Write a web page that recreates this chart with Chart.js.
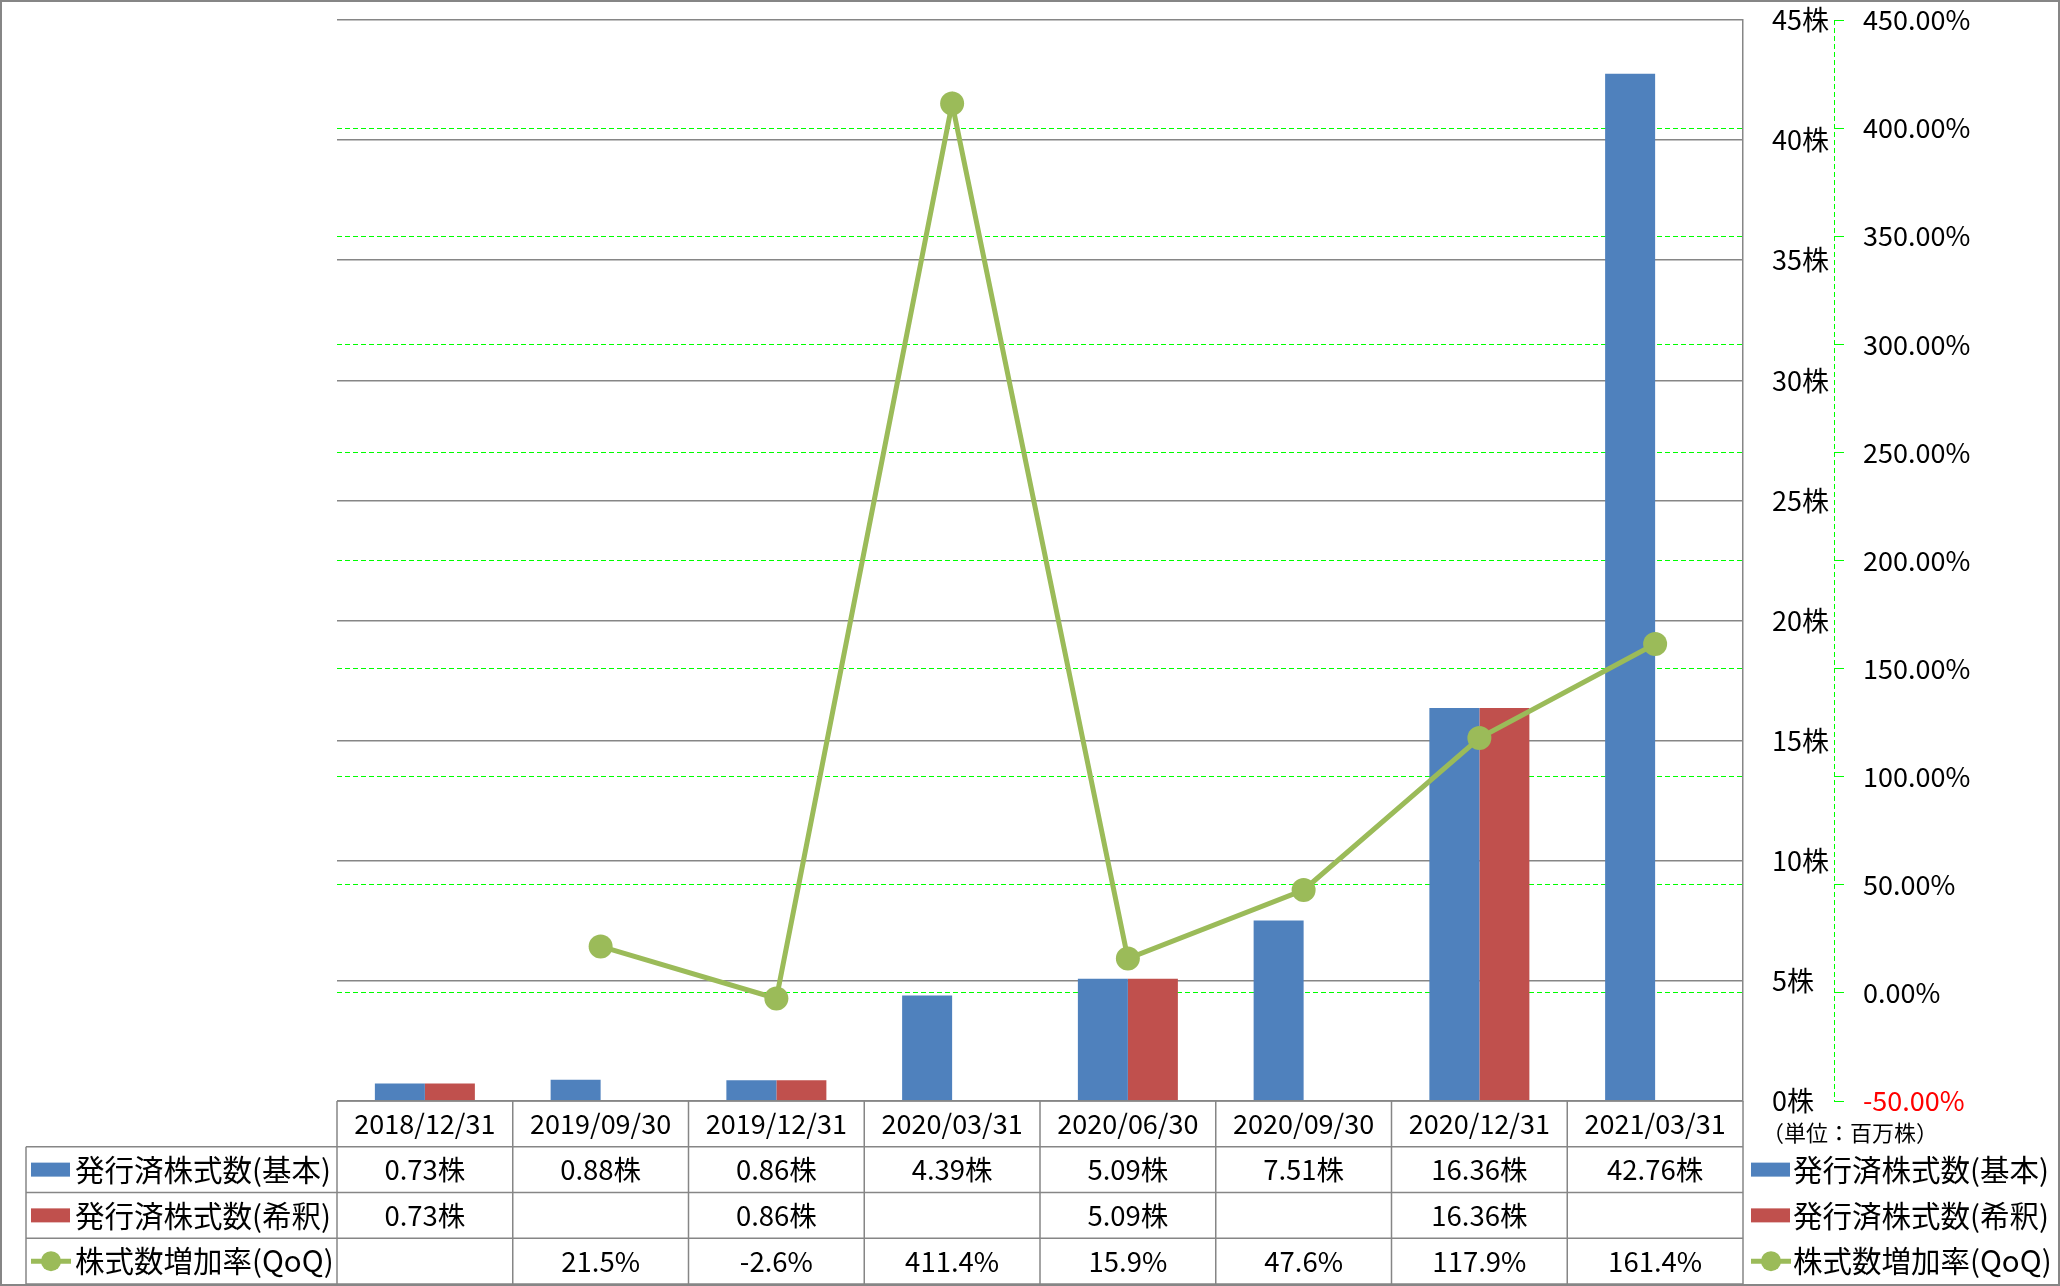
<!DOCTYPE html>
<html>
<head>
<meta charset="utf-8">
<script src="https://cdn.jsdelivr.net/npm/chart.js@4.4.1/dist/chart.umd.min.js"></script>
<style>
  html, body { margin: 0; padding: 0; background: #fff; }
  #wrap { width: 2060px; height: 1286px; position: relative; }
</style>
</head>
<body>
<div id="wrap"><canvas id="shares-chart"></canvas></div>
<script>
// data
var categories = ['2018/12/31', '2019/09/30', '2019/12/31', '2020/03/31', '2020/06/30', '2020/09/30', '2020/12/31', '2021/03/31'];
var seriesNames = ['発行済株式数(基本)', '発行済株式数(希釈)', '株式数増加率(QoQ)'];
var basicShares = [0.73, 0.88, 0.86, 4.39, 5.09, 7.51, 16.36, 42.76];
var dilutedShares = [0.73, null, 0.86, null, 5.09, null, 16.36, null];
var growthQoQ = [null, 21.5, -2.6, 411.4, 15.9, 47.6, 117.9, 161.4];
var unitLabel = '（単位：百万株）';

var BLUE = '#4F81BD', RED = '#C0504D', GREEN = '#9BBB59', GRID = '#868686', LIME = '#00FF00';
var FONT = '"Noto Sans CJK JP", "Noto Sans", sans-serif';

function patch(ctx, kind, x, cy) {
    if (kind === 2) {
        ctx.strokeStyle = GREEN; ctx.lineWidth = 5;
        ctx.beginPath(); ctx.moveTo(x, cy); ctx.lineTo(x + 40, cy); ctx.stroke();
        ctx.fillStyle = GREEN;
        ctx.beginPath(); ctx.arc(x + 20, cy, 10, 0, Math.PI * 2); ctx.fill();
    } else {
        ctx.fillStyle = kind === 0 ? BLUE : RED;
        ctx.fillRect(x, cy - 7, 39, 14);
    }
}

var tablePlugin = {
    id: 'dataTable',
    afterDraw: function(chart) {
        var ctx = chart.ctx, area = chart.chartArea, x = chart.scales.x, y2 = chart.scales.y2;
        var n = categories.length;
        var colW = (x.right - x.left) / n;
        var rowH = 45.75;
        var top = area.bottom;
        ctx.save();

        // secondary axis line (dashed)
        ctx.strokeStyle = LIME; ctx.lineWidth = 1; ctx.setLineDash([5, 3]);
        ctx.beginPath(); ctx.moveTo(y2.left + 0.5, area.top); ctx.lineTo(y2.left + 0.5, area.bottom); ctx.stroke();
        ctx.setLineDash([]);

        // table grid
        ctx.strokeStyle = GRID; ctx.lineWidth = 1.5;
        ctx.beginPath();
        ctx.moveTo(x.left, top); ctx.lineTo(x.right, top);
        for (var r = 1; r <= 4; r++) {
            ctx.moveTo(26, top + r * rowH); ctx.lineTo(x.right, top + r * rowH);
        }
        ctx.moveTo(26, top + rowH); ctx.lineTo(26, top + 4 * rowH);
        for (var c = 0; c <= n; c++) {
            ctx.moveTo(x.left + c * colW, top); ctx.lineTo(x.left + c * colW, top + 4 * rowH);
        }
        ctx.stroke();

        // texts
        ctx.fillStyle = '#000';
        ctx.font = '27px ' + FONT;
        ctx.textAlign = 'center'; ctx.textBaseline = 'middle';
        var rows = [
            basicShares.map(function(v) { return v == null ? '' : v.toFixed(2) + '株'; }),
            dilutedShares.map(function(v) { return v == null ? '' : v.toFixed(2) + '株'; }),
            growthQoQ.map(function(v) { return v == null ? '' : v.toFixed(1) + '%'; })
        ];
        for (var i = 0; i < n; i++) {
            var cx = x.getPixelForValue(i);
            ctx.fillText(categories[i], cx, top + rowH / 2);
            ctx.font = '27.5px ' + FONT;
            for (var k = 0; k < 3; k++) {
                ctx.fillText(rows[k][i], cx, top + (k + 1.5) * rowH);
            }
            ctx.font = '27px ' + FONT;
        }

        // row headers and right legend
        ctx.font = '29.5px ' + FONT;
        ctx.textAlign = 'left';
        for (var s = 0; s < 3; s++) {
            var cy = top + (s + 1.5) * rowH;
            patch(ctx, s, 31, cy);
            ctx.fillStyle = '#000';
            ctx.fillText(seriesNames[s], 75, cy);
            patch(ctx, s, 1751, cy);
            ctx.fillStyle = '#000';
            ctx.fillText(seriesNames[s], 1793, cy);
        }
        ctx.font = '22px ' + FONT;
        ctx.fillText(unitLabel, 1762, 1133);

        // outer frame
        ctx.strokeStyle = GRID; ctx.lineWidth = 2;
        ctx.strokeRect(1, 1, chart.width - 2, chart.height - 2);
        ctx.restore();
    }
};

document.addEventListener("DOMContentLoaded", function() {
    Chart.defaults.font.family = FONT;
    Chart.defaults.color = '#000';
    var ctx = document.getElementById('shares-chart').getContext('2d');
    new Chart(ctx, {
        type: 'bar',
        data: {
            labels: categories,
            datasets: [{
                label: seriesNames[0],
                data: basicShares,
                backgroundColor: BLUE,
                yAxisID: 'y',
                order: 1
            }, {
                label: seriesNames[1],
                data: dilutedShares,
                backgroundColor: RED,
                yAxisID: 'y',
                order: 1
            }, {
                type: 'line',
                label: seriesNames[2],
                data: growthQoQ,
                borderColor: GREEN,
                backgroundColor: GREEN,
                borderWidth: 5,
                pointRadius: 12,
                pointBackgroundColor: GREEN,
                pointBorderWidth: 0,
                tension: 0,
                yAxisID: 'y2',
                order: 0
            }]
        },
        options: {
            responsive: true,
            maintainAspectRatio: false,
            animation: false,
            layout: { padding: { left: 337, top: 20, right: 0, bottom: 185 } },
            datasets: { bar: { categoryPercentage: 0.569, barPercentage: 1 } },
            plugins: { legend: { display: false }, tooltip: { enabled: false } },
            scales: {
                x: { display: false },
                y: {
                    position: 'right',
                    min: 0, max: 45,
                    afterFit: function(s) { s.width = 91; },
                    ticks: { stepSize: 5, padding: 0, font: { size: 27 },
                        callback: function(v) { return v + '株'; } },
                    grid: { color: GRID, lineWidth: 1.5, drawTicks: true, tickLength: 29, tickColor: 'rgba(0,0,0,0)' },
                    border: { display: true, color: GRID, width: 1.5 }
                },
                y2: {
                    position: 'right',
                    min: -50, max: 450,
                    afterFit: function(s) { s.width = 226; },
                    ticks: { stepSize: 50, padding: 0, font: { size: 27 },
                        color: function(c) { return c.tick && c.tick.value < 0 ? '#FF0000' : '#000'; },
                        callback: function(v) { return v.toFixed(2) + '%'; } },
                    grid: {
                        color: function(c) { return c.tick && (c.tick.value === 450 || c.tick.value === -50) ? 'rgba(0,0,0,0)' : LIME; },
                        tickColor: LIME, tickLength: 29, tickBorderDash: [10, 200], lineWidth: 1
                    },
                    border: { display: false, dash: [5, 3] }
                }
            }
        },
        plugins: [tablePlugin]
    });
});
</script>
</body>
</html>
